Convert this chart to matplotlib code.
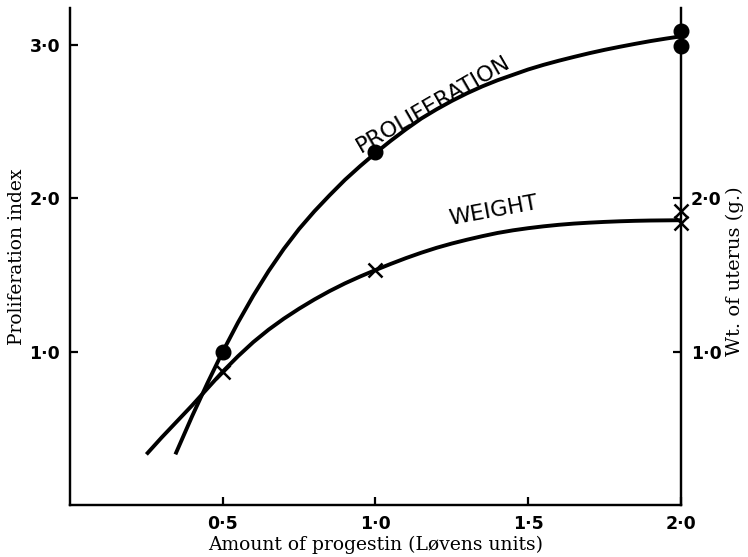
import matplotlib.pyplot as plt

plt.rcParams['font.family'] = 'DejaVu Sans'

# Measured points (amount of progestin in Lovens units)
prolif_x = [0.5, 1.0, 2.0, 2.0]
prolif_y = [1.0, 2.3, 3.09, 2.99]
weight_x = [0.5, 1.0, 2.0, 2.0]
weight_y = [0.87, 1.53, 1.92, 1.84]

# Hand-drawn curves
prolif_curve_x = [0.345, 0.40, 0.45, 0.50, 0.55, 0.60, 0.65, 0.70, 0.75, 0.80,
                  0.85, 0.90, 0.95, 1.00, 1.05, 1.10, 1.15, 1.20, 1.25, 1.30,
                  1.35, 1.40, 1.45, 1.50, 1.55, 1.60, 1.65, 1.70, 1.75, 1.80,
                  1.85, 1.90, 1.95, 2.00]
prolif_curve_y = [0.33, 0.58, 0.795, 1.0, 1.19, 1.365, 1.525, 1.67, 1.80, 1.915,
                  2.02, 2.12, 2.21, 2.295, 2.375, 2.45, 2.52, 2.58, 2.635, 2.685,
                  2.73, 2.77, 2.805, 2.84, 2.87, 2.897, 2.922, 2.946, 2.968, 2.988,
                  3.007, 3.025, 3.041, 3.056]
weight_curve_x = [0.25, 0.30, 0.35, 0.40, 0.45, 0.50, 0.55, 0.60, 0.65, 0.70,
                  0.75, 0.80, 0.85, 0.90, 0.95, 1.00, 1.05, 1.10, 1.15, 1.20,
                  1.25, 1.30, 1.35, 1.40, 1.45, 1.50, 1.55, 1.60, 1.65, 1.70,
                  1.75, 1.80, 1.85, 1.90, 1.95, 2.00]
weight_curve_y = [0.33, 0.44, 0.545, 0.65, 0.76, 0.87, 0.97, 1.062, 1.143, 1.215,
                  1.28, 1.34, 1.395, 1.445, 1.49, 1.532, 1.572, 1.61, 1.645, 1.677,
                  1.705, 1.73, 1.753, 1.774, 1.791, 1.805, 1.817, 1.827, 1.835, 1.841,
                  1.846, 1.85, 1.853, 1.855, 1.856, 1.857]

x_ticks = [0.5, 1.0, 1.5, 2.0]
x_labels = ['0·5', '1·0', '1·5', '2·0']
left_ticks = [1.0, 2.0, 3.0]
left_labels = ['1·0', '2·0', '3·0']
right_ticks = [1.0, 2.0]
right_labels = ['1·0', '2·0']

fig = plt.figure(figsize=(7.48, 5.57), dpi=100)
ax = fig.add_axes([0.0936, 0.0934, 0.8167, 0.892])
ax2 = ax.twinx()

ax.plot(prolif_curve_x, prolif_curve_y, color='black', lw=2.8,
        solid_capstyle='butt', solid_joinstyle='round', clip_on=False)
ax.plot(prolif_x, prolif_y, 'o', color='black', ms=10.5, clip_on=False, zorder=5)
ax2.plot(weight_curve_x, weight_curve_y, color='black', lw=2.8,
         solid_capstyle='butt', solid_joinstyle='round', clip_on=False)
ax2.plot(weight_x, weight_y, 'x', color='black', ms=10, mew=1.8,
         clip_on=False, zorder=5)

for a in (ax, ax2):
    a.set_xlim(0, 2.0)
    a.set_ylim(0, 3.24)
    a.spines['top'].set_visible(False)
    for s in ('left', 'right', 'bottom'):
        a.spines[s].set_linewidth(1.6)

ax.set_xticks(x_ticks)
ax.set_xticklabels(x_labels)
ax.set_yticks(left_ticks)
ax.set_yticklabels(left_labels)
ax2.set_yticks(right_ticks)
ax2.set_yticklabels(right_labels)

for lab in ax.get_xticklabels() + ax.get_yticklabels() + ax2.get_yticklabels():
    lab.set_fontsize(12.5)
    lab.set_fontweight('bold')
ax.tick_params(direction='in', length=6, width=1.6, pad=7)
ax2.tick_params(direction='in', length=6, width=1.6, pad=7)

ax.set_xlabel('Amount of progestin (Løvens units)', family='DejaVu Serif',
              fontsize=13.5, labelpad=2)
ax.set_ylabel('Proliferation index', family='DejaVu Serif', fontsize=13.5)
ax.yaxis.set_label_coords(-0.072, 0.5)
ax2.set_ylabel('Wt. of uterus (g.)', family='DejaVu Serif', fontsize=14)
ax2.yaxis.set_label_coords(1.074, 0.47)

ax.text(1.19, 2.61, 'PROLIFERATION', rotation=30, fontsize=16,
        ha='center', va='center')
ax2.text(1.385, 1.92, 'WEIGHT', rotation=10.5, fontsize=16,
         ha='center', va='center')

plt.savefig('out.png', dpi=100)
